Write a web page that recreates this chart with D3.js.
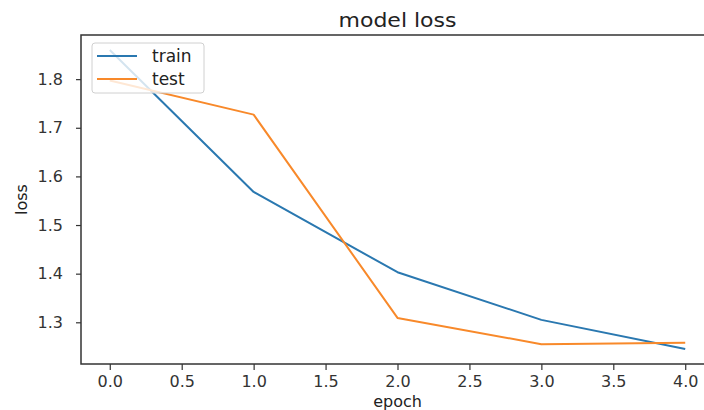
<!DOCTYPE html>
<html>
<head>
<meta charset="utf-8">
<script src="https://cdn.jsdelivr.net/npm/d3@7"></script>
<style>
  body { margin: 0; background: #fff; }
  svg { display: block; font-family: "DejaVu Sans", sans-serif; }
</style>
</head>
<body>
<svg id="chart"></svg>
<script>
// values
const epochs = [0, 1, 2, 3, 4];
const trainLoss = [1.860, 1.568, 1.403, 1.305, 1.245];
const testLoss = [1.797, 1.727, 1.309, 1.255, 1.258];
const xTicks = [0, 0.5, 1, 1.5, 2, 2.5, 3, 3.5, 4];
const yTicks = [1.3, 1.4, 1.5, 1.6, 1.7, 1.8];
const seriesNames = ['train', 'test'];
const seriesColors = ['#2a78b0', '#f8892a'];

const width = 704, height = 410;
const plotLeft = 81, plotRight = 714, plotTop = 35, plotBottom = 364;

const svg = d3.select('#chart')
  .attr('width', width)
  .attr('height', height);

// matplotlib style 5% margins
const allY = trainLoss.concat(testLoss);
const yMin = d3.min(allY), yMax = d3.max(allY);
const pad = (yMax - yMin) * 0.05;

const x = d3.scaleLinear().domain([-0.2, 4.2]).range([plotLeft, plotRight]);
const y = d3.scaleLinear().domain([yMin - pad, yMax + pad]).range([plotBottom, plotTop]);

const line = d3.line()
  .x((d, i) => x(epochs[i]))
  .y(d => y(d));

// lines
[trainLoss, testLoss].forEach((s, i) => {
  svg.append('path')
    .datum(s)
    .attr('fill', 'none')
    .attr('stroke', seriesColors[i])
    .attr('stroke-width', 2)
    .attr('stroke-linejoin', 'round')
    .attr('d', line);
});

// axes
const xAxis = svg.append('g')
  .attr('transform', `translate(0,${plotBottom})`)
  .call(d3.axisBottom(x).tickValues(xTicks).tickFormat(d3.format('.1f'))
    .tickSize(6).tickPadding(6).tickSizeOuter(0));

const yAxis = svg.append('g')
  .attr('transform', `translate(${plotLeft},0)`)
  .call(d3.axisLeft(y).tickValues(yTicks).tickFormat(d3.format('.1f'))
    .tickSize(5).tickPadding(13).tickSizeOuter(0));

[xAxis, yAxis].forEach(g => {
  g.select('.domain').remove();
  g.selectAll('line').attr('stroke', '#333').attr('stroke-width', 1.2);
  g.selectAll('text')
    .attr('fill', '#333')
    .style('font-size', '16px')
    .style('font-family', '"DejaVu Sans", sans-serif');
});

// spines
svg.append('rect')
  .attr('x', plotLeft).attr('y', plotTop)
  .attr('width', plotRight - plotLeft).attr('height', plotBottom - plotTop)
  .attr('fill', 'none')
  .attr('stroke', '#333')
  .attr('stroke-width', 1.5);

// title and labels
svg.append('text')
  .attr('x', (plotLeft + plotRight) / 2).attr('y', 27)
  .attr('text-anchor', 'middle')
  .attr('fill', '#222')
  .attr('textLength', 118)
  .attr('lengthAdjust', 'spacingAndGlyphs')
  .style('font-size', '19px')
  .text('model loss');

svg.append('text')
  .attr('x', (plotLeft + plotRight) / 2).attr('y', 407)
  .attr('text-anchor', 'middle')
  .attr('fill', '#222')
  .style('font-size', '16px')
  .text('epoch');

svg.append('text')
  .attr('transform', `translate(27,${(plotTop + plotBottom) / 2}) rotate(-90)`)
  .attr('text-anchor', 'middle')
  .attr('fill', '#222')
  .style('font-size', '16px')
  .text('loss');

// legend
const legend = svg.append('g').attr('transform', 'translate(92,43)');
legend.append('rect')
  .attr('width', 112).attr('height', 50)
  .attr('rx', 3)
  .attr('fill', '#fff').attr('fill-opacity', 0.8)
  .attr('stroke', '#d0d0d0');

seriesNames.forEach((name, i) => {
  const row = legend.append('g').attr('transform', `translate(0,${13 + i * 23})`);
  row.append('line')
    .attr('x1', 5).attr('x2', 45)
    .attr('stroke', seriesColors[i])
    .attr('stroke-width', 2);
  row.append('text')
    .attr('x', 60).attr('dy', '0.36em')
    .attr('fill', '#222')
    .style('font-size', '17px')
    .text(name);
});
</script>
</body>
</html>
